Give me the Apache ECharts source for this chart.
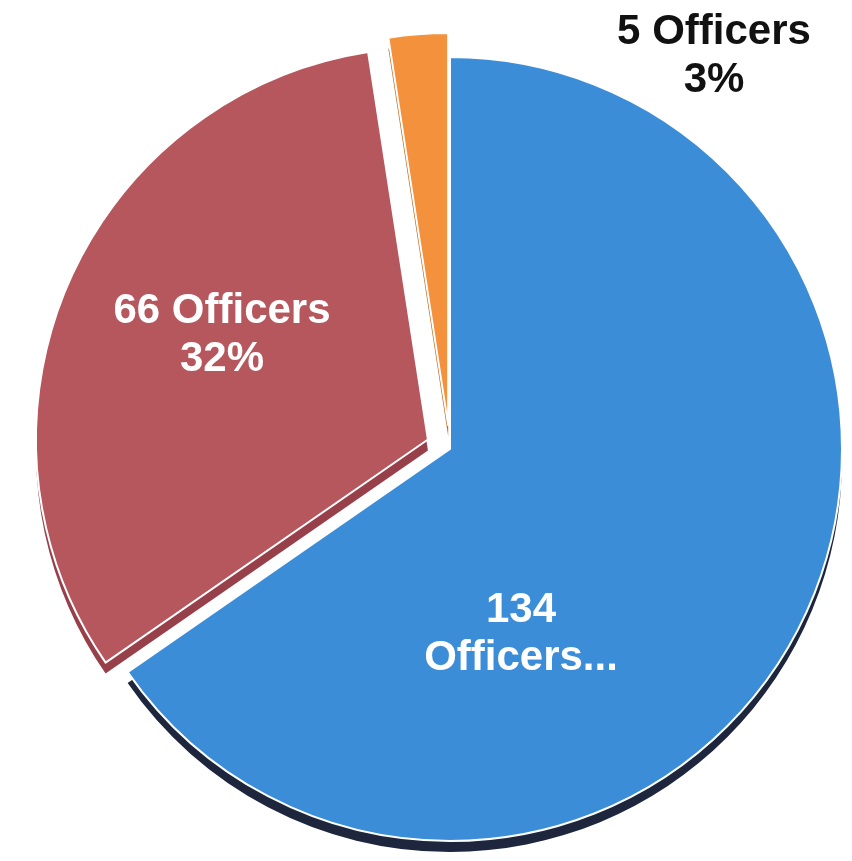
<!DOCTYPE html>
<html>
<head>
<meta charset="utf-8">
<script src="https://cdn.jsdelivr.net/npm/echarts@6/dist/echarts.min.js"></script>
<style>html,body{margin:0;padding:0;background:#fff}#c{width:852px;height:861px}</style>
</head>
<body>
<div id="c"></div>
<script>
// Data
const categories = ['Group A', 'Group B', 'Group C'];
const officers = [134, 66, 5];
const labelTexts = ['134\nOfficers...', '66 Officers\n32%', '5 Officers\n3%'];

// Styles
const topColors = ['#3c8dd8', '#b6565d', '#f4913c'];
const sideColors = ['#1d263d', '#97404a', '#c46a22'];
const labelColors = ['#ffffff', '#ffffff', '#111111'];
const labelXY = [[521, 634], [222, 335], [714, 56]];
const selectedIdx = [1, 2];

const chart = echarts.init(document.getElementById('c'), null, {renderer: 'canvas'});

function mk(colorArr) {
  return categories.map((c, i) => ({
    name: c,
    value: officers[i],
    selected: selectedIdx.indexOf(i) >= 0,
    itemStyle: {color: colorArr[i]}
  }));
}

const common = {
  type: 'pie',
  radius: 392,
  startAngle: 90,
  clockwise: true,
  selectedMode: 'multiple',
  selectedOffset: 24,
  animation: false,
  silent: true,
  emphasis: {disabled: true},
  label: {show: false},
  labelLine: {show: false}
};

chart.setOption({
  backgroundColor: '#ffffff',
  series: [
    Object.assign({}, common, {
      center: [450, 460],
      z: 1,
      itemStyle: {borderWidth: 0},
      data: mk(sideColors)
    }),
    Object.assign({}, common, {
      center: [450, 449],
      z: 2,
      itemStyle: {borderColor: '#ffffff', borderWidth: 2},
      data: mk(topColors)
    })
  ],
  graphic: labelTexts.map((t, i) => ({
    type: 'text',
    x: labelXY[i][0],
    y: labelXY[i][1],
    z: 100,
    style: {
      text: t,
      fill: labelColors[i],
      font: 'bold 42px "Liberation Sans", Arial, sans-serif',
      lineHeight: 48,
      align: 'center',
      verticalAlign: 'middle',
      textAlign: 'center',
      textVerticalAlign: 'middle',
      shadowColor: i < 2 ? 'rgba(0,0,0,0.45)' : 'transparent',
      shadowBlur: i < 2 ? 3 : 0,
      shadowOffsetX: 1,
      shadowOffsetY: 1
    }
  }))
});
</script>
</body>
</html>
